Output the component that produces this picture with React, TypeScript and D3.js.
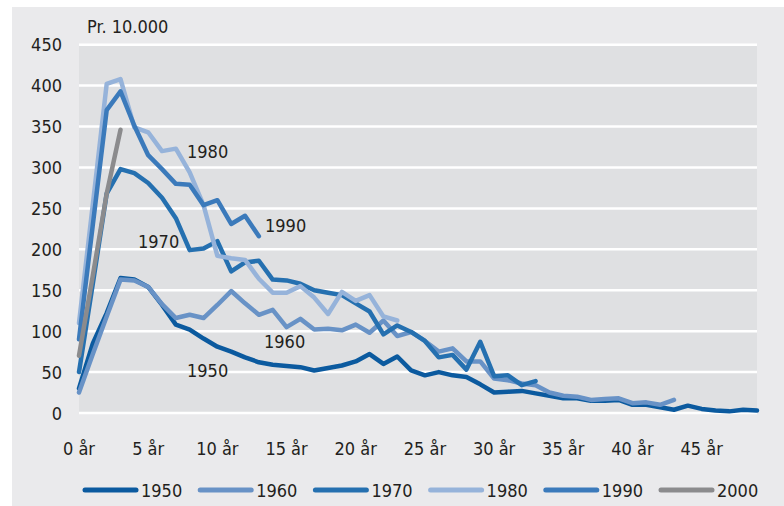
import React from "react";
import * as d3 from "d3";

const ages = d3.range(0, 50);
const yTicks = [0, 50, 100, 150, 200, 250, 300, 350, 400, 450];
const xTickAges = [0, 5, 10, 15, 20, 25, 30, 35, 40, 45];
const xTickLabels = ["0 år", "5 år", "10 år", "15 år", "20 år", "25 år", "30 år", "35 år", "40 år", "45 år"];
const seriesNames = ["1950", "1960", "1970", "1980", "1990", "2000"];
const seriesColors = ["#0b5a9f", "#6892c6", "#2570b0", "#96b3da", "#3b7abb", "#8b8b8d"];

const v1950 = [30, 85, 122, 165, 163, 154, 132, 108, 102, 91, 81, 75, 68, 62, 59, 57.5, 56, 52, 55, 58, 63, 72, 60, 69, 52, 46, 50, 46, 44, 35, 25, 26, 27, 24, 21, 18, 18, 15, 15, 16, 10, 10, 7, 4, 9, 5, 3, 2, 4, 3];
const v1960 = [25, 72, 118, 163, 162, 154, 133, 116, 120, 116, 132, 149, 134, 120, 126, 105, 115, 102, 103, 101, 108, 98, 113, 94, 99, 88, 75, 79, 63, 63, 42, 40, 36, 34, 25, 21, 20, 16, 17, 18, 12, 13, 10, 16];
const v1970 = [50, 158, 268, 298, 293, 281, 263, 238, 199, 201, 210, 173, 184, 186, 163, 162, 158, 150, 147, 144, 134, 124, 96, 107, 99, 88, 68, 71, 53, 87, 45, 46, 34, 39];
const v1980 = [110, 255, 402, 408, 349, 343, 320, 323, 294, 254, 192, 189, 187, 164, 147, 147, 155, 141, 121, 148, 137, 144, 118, 113];
const v1990 = [90, 230, 370, 393, 351, 315, 298, 280, 279, 254, 260, 231, 241, 216];
const v2000 = [70, 168, 268, 346];

const seriesValues = [v1950, v1960, v1970, v1980, v1990, v2000];

const seriesLabels = [
  { text: "1950", x: 187, y: 377 },
  { text: "1960", x: 264, y: 348 },
  { text: "1970", x: 138, y: 248 },
  { text: "1980", x: 187, y: 158 },
  { text: "1990", x: 265, y: 232 },
];

const W = 784;
const H = 506;
const FONT = "'DejaVu Sans Condensed', 'Liberation Sans', sans-serif";
const FS = 18;
const TXT = "#231f20";

export default function App() {
  const x = d3.scaleLinear().domain([0, 49]).range([79, 757]);
  const y = d3.scaleLinear().domain([0, 450]).range([413, 44.7]);
  const line = d3
    .line<number>()
    .x((_, i) => x(ages[i]))
    .y((d) => y(d))
    .curve(d3.curveLinear);

  return (
    <svg width={W} height={H} style={{ position: "absolute", left: 0, top: 0 }} fontFamily={FONT}>
      <rect x={0} y={0} width={W} height={H} fill="#ffffff" />
      <rect x={12} y={7} width={W - 12} height={H - 7} fill="#eaeaec" />
      <rect x={x(0)} y={y(450)} width={x(49) - x(0)} height={y(0) - y(450)} fill="#dfe0e2" />
      {yTicks.map((t) => (
        <g key={t}>
          <line x1={x(0)} x2={x(49)} y1={y(t)} y2={y(t)} stroke="#ffffff" strokeWidth={2.5} />
          <text x={62} y={y(t) + 6.6} textAnchor="end" fontSize={FS} fill={TXT}>
            {t}
          </text>
        </g>
      ))}
      {xTickAges.map((a, i) => (
        <text key={a} x={x(a)} y={455} textAnchor="middle" fontSize={FS} fill={TXT}>
          {xTickLabels[i]}
        </text>
      ))}
      <text x={87} y={33} fontSize={FS} fill={TXT}>
        Pr. 10.000
      </text>
      {seriesValues.map((vals, i) => (
        <path
          key={seriesNames[i]}
          d={line(vals) || ""}
          fill="none"
          stroke={seriesColors[i]}
          strokeWidth={4.5}
          strokeLinejoin="round"
          strokeLinecap="round"
        />
      ))}
      {seriesLabels.map((l) => (
        <text key={l.text} x={l.x} y={l.y} fontSize={FS} fill={TXT}>
          {l.text}
        </text>
      ))}
      {seriesNames.map((n, i) => {
        const lx = 85 + i * 115.2;
        return (
          <g key={n}>
            <line x1={lx} x2={lx + 51} y1={490} y2={490} stroke={seriesColors[i]} strokeWidth={5} strokeLinecap="round" />
            <text x={lx + 56} y={496.5} fontSize={FS} fill={TXT}>
              {n}
            </text>
          </g>
        );
      })}
    </svg>
  );
}
